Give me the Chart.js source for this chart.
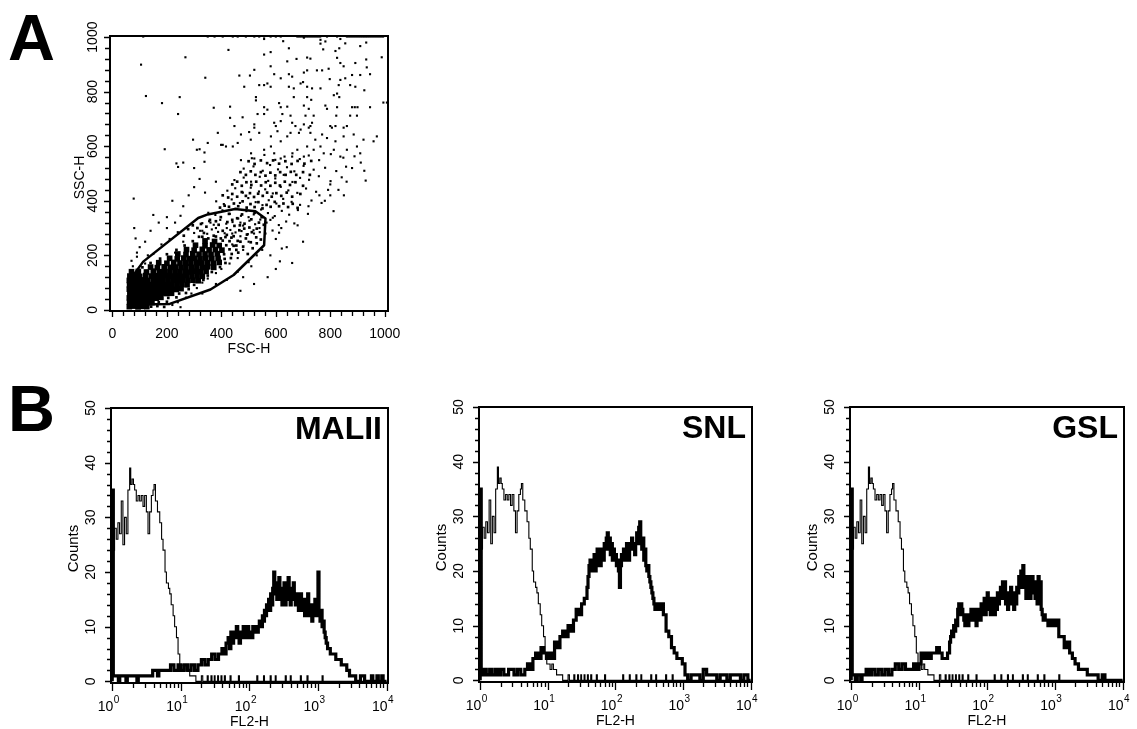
<!DOCTYPE html>
<html>
<head>
<meta charset="utf-8">
<title>Flow cytometry: scatter gate and lectin binding</title>
<script src="https://cdn.jsdelivr.net/npm/chart.js@4.4.1/dist/chart.umd.min.js"></script>
<style>
  html, body { margin: 0; padding: 0; background: #fff; }
  body { width: 1137px; height: 729px; position: relative; overflow: hidden; }
  .panel { position: absolute; }
  .letter {
    position: absolute;
    font: bold 65px 'Liberation Sans', Arial, sans-serif;
    line-height: 1;
  }
</style>
</head>
<body>
<div class="letter" style="left:8px;top:5px">A</div>
<div class="letter" style="left:8px;top:376px">B</div>

<div class="panel" style="left:0;top:0"><canvas id="scatterA" width="400" height="365"></canvas></div>
<div class="panel" style="left:0;top:380px"><canvas id="histMalii" width="400" height="349"></canvas></div>
<div class="panel" style="left:400px;top:380px"><canvas id="histSnl" width="370" height="349"></canvas></div>
<div class="panel" style="left:770px;top:380px"><canvas id="histGsl" width="367" height="349"></canvas></div>

<script>
// ---- Panel A data (FSC-H, SSC-H pairs) ----
// dense core of the population (drawn as bigger dots)
const scatterCore = [
  62,12, 78,14, 94,11, 110,13, 126,12,
  63,28, 79,27, 95,29, 111,28, 128,30, 145,27,
  62,44, 78,45, 94,43, 110,46, 127,44, 144,45, 161,43, 178,46,
  64,60, 80,61, 96,59, 113,62, 130,60, 147,61, 164,59, 181,62, 199,60, 217,61,
  62,76, 78,77, 95,75, 112,78, 129,76, 146,77, 163,75, 180,78, 198,76, 216,77, 234,75, 252,78,
  63,92, 80,93, 97,91, 114,94, 131,92, 148,93, 165,91, 183,94, 201,92, 219,93, 237,91, 255,94, 274,92,
  62,108, 79,109, 96,107, 113,110, 130,108, 150,109, 168,107, 186,110, 204,108, 222,109, 240,107, 258,110, 277,108, 296,109, 315,107,
  64,124, 81,125, 100,123, 122,126, 143,124, 162,125, 181,123, 199,126, 217,124, 235,125, 254,123, 273,126, 292,124, 311,125, 330,123,
  70,140, 95,141, 125,139, 150,142, 172,140, 192,141, 211,139, 230,142, 248,140, 267,141, 286,139, 305,142, 324,140, 344,141,
  140,157, 165,155, 190,158, 212,156, 232,157, 252,155, 270,158, 290,156, 310,157, 330,155, 350,158, 372,156,
  170,173, 200,171, 225,174, 248,172, 268,173, 288,171, 308,174, 328,172, 348,173, 370,171, 392,174,
  210,189, 238,187, 262,190, 282,188, 302,189, 322,187, 343,190, 365,188, 388,189,
  240,205, 270,203, 295,206, 318,204, 340,205, 362,203, 385,206,
  272,221, 300,219, 330,222, 355,220, 378,221, 402,219,
  305,237, 340,235, 368,238, 392,236,
  340,253, 375,251
];

// medium-density events in the upper part of the gate and just above it
const scatterMid = [
  142,12, 165,14, 190,11, 170,28, 200,30, 205,44, 235,46, 245,60, 270,62, 280,76, 300,92, 334,110, 350,126,
  365,139, 110,156, 395,157, 140,172, 415,172, 175,188, 412,187, 435,190, 200,204, 410,204, 438,205,
  235,220, 430,222, 455,220, 265,236, 418,237, 445,235, 295,252, 405,254, 430,252, 460,253,
  330,268, 380,269, 415,267, 445,270,
  462,210, 480,232, 497,205, 515,226, 530,244, 470,250, 490,262, 508,248, 528,266, 545,258, 455,236,
  262,272, 278,296, 295,310, 312,300, 318,268, 336,282, 345,305, 358,330, 372,272, 390,312, 398,340, 405,290,
  422,322, 428,352, 437,265, 448,308, 458,336, 466,292, 476,350, 485,316, 494,276, 503,302, 510,332, 522,356,
  530,298, 538,320, 548,340, 556,312, 420,275, 352,262, 398,262, 468,310, 484,298, 512,285, 440,330, 380,325, 325,315,
  395,375, 412,382, 428,378, 446,390, 462,380, 478,398, 493,375, 507,388, 522,377, 536,395, 551,372, 566,385,
  581,378, 596,396, 612,380, 628,390, 645,377, 662,389, 680,374,
  405,420, 425,412, 440,425, 458,415, 475,432, 490,418, 505,428, 520,414, 535,426, 552,418, 568,430, 585,415,
  602,428, 620,418, 640,430, 660,415, 690,425,
  440,460, 458,470, 475,455, 492,468, 510,458, 528,470, 546,456, 563,468, 580,455, 598,466, 615,456, 633,470,
  652,458, 672,468, 700,455,
  470,505, 490,495, 508,508, 525,495, 545,505, 562,492, 580,503, 598,493, 616,505, 636,495, 655,506, 675,495,
  700,505, 725,495,
  500,545, 522,535, 545,548, 568,538, 590,548, 612,536, 635,545, 658,535, 680,546, 705,536, 730,546
];

// scattered events around and above the gate
const scatterSpread = [
  300,282, 322,290, 348,279, 365,295, 388,286, 412,281, 433,293, 452,284, 474,289, 497,278, 518,292, 541,285, 562,280, 588,291, 612,283,
  330,318, 355,325, 372,312, 396,330, 418,316, 441,322, 462,335, 480,309, 503,327, 524,314, 543,331, 566,320, 589,338, 611,311, 638,324, 668,317,
  352,356, 378,348, 404,365, 431,352, 453,371, 472,345, 492,362, 519,350, 546,368, 571,355, 596,344, 622,363, 649,349, 681,366, 718,352,
  381,398, 409,388, 438,405, 468,392, 499,410, 526,395, 551,384, 574,402, 602,390, 627,407, 658,396, 689,385, 731,401, 768,392,
  422,437, 451,446, 479,430, 508,448, 538,434, 561,442, 589,427, 618,451, 646,438, 679,429, 711,445, 748,433, 792,440,
  448,476, 482,485, 509,470, 541,488, 572,473, 598,482, 629,495, 661,469, 689,484, 722,477, 758,490, 801,472, 842,486,
  482,518, 518,526, 552,510, 579,531, 608,515, 641,523, 668,508, 702,528, 739,514, 781,521, 822,509, 858,525,
  512,556, 558,568, 598,550, 632,562, 661,574, 688,553, 721,566, 759,549, 802,571, 848,558, 889,563,
  120,170, 90,195, 150,205, 180,240, 210,260, 240,285, 270,300, 260,250, 230,210, 330,290, 420,300, 470,270,
  500,250, 520,280, 540,300, 480,220, 460,190, 430,170, 400,150, 380,135, 350,115, 330,100, 310,80, 290,60,
  270,45, 240,28, 220,18, 250,10, 330,60, 380,95, 420,110, 460,140, 500,175, 530,200, 550,220, 480,120,
  510,160, 440,240, 470,320, 500,340, 440,280, 380,300, 360,320,
  580,200, 615,178, 660,172, 600,150, 570,120, 520,95, 470,70, 640,230, 600,260, 700,250, 620,300, 680,310,
  580,330, 720,380, 760,420, 800,460, 622,225, 812,362, 780,400, 850,420, 912,540, 925,510, 880,520, 860,470,
  830,440, 800,420, 930,474,
  78,408, 80,300, 85,262, 150,348, 120,250, 100,230, 140,290, 170,320, 200,300, 90,210, 130,200, 70,180,
  75,160, 200,340, 230,320, 250,345, 260,380, 220,400, 280,420, 300,450, 320,480, 340,430, 380,470, 300,520,
  260,540, 310,587,
  105,899, 268,926, 426,953, 557,993, 627,985, 703,998, 764,990, 782,984, 557,936, 581,945, 648,959, 764,976,
  774,955, 837,993, 855,977, 910,967, 932,980, 989,926, 819,949, 833,959, 676,920, 715,925, 727,921, 642,911,
  581,893, 521,880, 466,859, 505,859, 341,851, 594,864, 618,849, 648,864, 660,855, 691,830, 703,870, 715,878,
  751,878, 770,878, 794,884, 825,924, 837,905, 849,893, 892,905, 932,918, 934,889, 880,861, 910,861, 946,864,
  798,846, 837,843, 855,849, 484,818, 539,824, 557,824, 569,830, 581,818, 648,818, 666,812, 700,835, 715,818,
  733,812, 764,812, 831,824, 873,824, 892,818, 925,805, 123,784, 247,780, 182,758, 527,780, 527,768, 612,758,
  642,745, 666,780, 715,780, 730,770, 813,787, 825,793, 833,780, 880,743, 890,743, 900,743, 946,743, 995,760,
  1008,760, 241,718, 372,741, 432,745, 478,706, 533,718, 557,743, 557,718, 569,734, 618,743, 624,718, 654,712,
  703,749, 709,712, 721,737, 739,712, 782,749, 788,737, 825,743, 822,712, 873,712, 898,712, 432,704, 448,674,
  521,680, 521,668, 594,686, 600,674, 618,692, 660,686, 672,674, 703,680, 727,674, 733,686, 800,674, 806,668,
  819,674, 849,668, 861,674, 296,624, 350,612, 387,649, 405,605, 442,599, 472,643, 502,652, 508,624, 539,649,
  582,636, 606,655, 618,618, 642,636, 654,649, 685,649, 691,661, 721,668, 727,649, 745,624, 770,643, 788,630,
  819,618, 849,636, 886,643, 922,624, 959,618, 971,636, 192,589, 235,537, 241,524, 320,589, 338,577, 338,543,
  399,605, 417,599, 460,612, 472,549, 509,574, 521,555, 557,587, 582,599, 594,574, 618,555, 660,562, 679,587,
  703,562, 715,599, 739,587, 764,599, 776,574, 813,587, 837,562, 861,587, 898,599, 910,574
];

// events piled up in the top (saturated) SSC channel
const scatterTopX = [113, 350, 375, 405, 442, 460, 490, 521, 539, 557, 581, 600, 618,
  679, 686, 693, 700, 707, 714, 721, 728, 735, 742, 749, 756, 763, 788, 825,
  861, 868, 875, 882, 889, 896, 903, 910, 917, 924, 931, 938, 945, 952, 959, 966, 973, 980, 987, 994];
const scatterTopY = 1002;

// gate drawn on the FSC/SSC plot
const gateOutline = [100,20, 210,22, 360,75, 445,128, 557,237, 562,335, 525,362, 450,370,
  350,350, 315,337, 113,177, 64,110, 60,32, 100,20];

const scatterTickLabels = [0, 200, 400, 600, 800, 1000];

// ---- Panel B data: (log10 FL2-H, counts) ----
const controlCounts = [
  0,0, 0,35, 0.02,24, 0.034,28, 0.059,26, 0.083,29, 0.107,27, 0.132,33, 0.156,25, 0.18,30,
  0.205,27, 0.229,35, 0.254,39, 0.27,36, 0.29,37, 0.31,36, 0.327,35, 0.351,33, 0.376,34, 0.4,33,
  0.424,34, 0.449,32, 0.473,34, 0.498,31, 0.522,27, 0.546,31, 0.571,34, 0.595,35, 0.61,36, 0.63,33,
  0.66,31, 0.693,29, 0.72,26, 0.741,24, 0.77,20, 0.79,18, 0.82,17, 0.839,16, 0.86,14, 0.888,12,
  0.91,10, 0.937,8, 0.96,5, 0.985,3, 1.01,3, 1.034,2, 1.06,3, 1.083,2, 1.13,1, 1.18,1,
  1.22,0, 1.3,1, 1.32,0, 1.385,1, 1.4,0, 1.44,1, 1.455,0, 1.488,1, 1.5,0, 1.537,1,
  1.55,0, 1.586,1, 1.6,0, 1.635,1, 1.65,0, 1.718,1, 1.733,0, 1.84,1, 1.855,0, 2.108,1,
  2.123,0, 2.206,1, 2.22,0, 2.303,1, 2.318,0, 2.377,1, 2.39,0, 2.523,1, 2.538,0, 2.596,1,
  2.61,0, 2.743,1, 2.758,0, 2.84,1, 2.855,0, 3.06,1, 3.075,0, 4,0
];

const maliiCounts = [
  0,0, 0,35, 0.016,1, 0.09,0, 0.11,1, 0.2,0, 0.22,1, 0.36,0, 0.38,1, 0.59,2,
  0.66,1, 0.68,2, 0.78,2, 0.85,3, 0.9,2, 0.96,3, 1.0,2, 1.05,3, 1.1,2, 1.15,3,
  1.2,2, 1.25,3, 1.3,4, 1.35,3, 1.4,4, 1.45,5, 1.5,4, 1.55,5,
  1.6,6, 1.63,5, 1.66,7, 1.69,8, 1.71,6, 1.73,9, 1.75,7, 1.77,9, 1.79,8, 1.81,10,
  1.83,8, 1.85,7, 1.87,9, 1.89,8, 1.91,10, 1.93,8, 1.95,9, 1.97,10, 1.99,8, 2.01,9,
  2.03,8, 2.05,10, 2.07,9, 2.09,10, 2.11,9, 2.13,10, 2.145,11,
  2.16,11, 2.175,10, 2.19,12, 2.205,11, 2.22,13, 2.235,12, 2.25,14, 2.265,13, 2.28,15, 2.295,13,
  2.31,16, 2.325,14, 2.34,17, 2.355,20, 2.37,16, 2.385,18, 2.4,15, 2.415,17, 2.43,19, 2.445,15,
  2.46,17, 2.475,14, 2.49,16, 2.505,18, 2.52,14, 2.535,16, 2.55,15, 2.565,19, 2.58,16, 2.595,14,
  2.61,17, 2.625,15, 2.64,18, 2.655,16, 2.67,14, 2.685,16, 2.7,15, 2.715,13, 2.73,15, 2.745,16,
  2.76,13, 2.775,15, 2.79,14, 2.805,12, 2.82,15, 2.835,13, 2.85,16, 2.865,12, 2.88,14, 2.895,13,
  2.91,11, 2.925,14, 2.94,12, 2.955,15, 2.97,13, 2.985,12, 3.0,20, 3.015,13, 3.03,11, 3.045,13,
  3.06,10, 3.075,11, 3.09,9, 3.105,8, 3.12,7, 3.14,6, 3.18,5, 3.22,5, 3.26,4, 3.3,4,
  3.34,3, 3.38,3, 3.42,2, 3.46,1, 3.5,1, 3.55,0, 3.62,1, 3.68,0, 3.78,1, 3.8,0,
  3.86,1, 3.88,0, 3.93,1, 3.95,0, 4,0
];

const snlCounts = [
  0,0, 0,35, 0.015,1, 0.06,2, 0.09,1, 0.14,2, 0.17,1, 0.22,2, 0.26,1, 0.3,2,
  0.35,1, 0.42,2, 0.5,1, 0.55,2, 0.6,1, 0.66,2, 0.7,3, 0.74,2, 0.78,4, 0.82,5,
  0.86,4, 0.9,6, 0.94,5, 0.98,4, 1.02,5, 1.06,4, 1.1,7, 1.14,6, 1.18,8, 1.22,9,
  1.26,8, 1.3,10, 1.34,9, 1.38,11, 1.42,13, 1.46,12, 1.5,14, 1.54,15,
  1.58,17, 1.595,19, 1.61,21, 1.625,22, 1.64,20, 1.655,22, 1.67,21, 1.685,23, 1.7,20, 1.715,22,
  1.73,24, 1.745,21, 1.76,23, 1.775,21, 1.79,24, 1.805,23, 1.82,22, 1.835,25, 1.85,24, 1.865,26,
  1.88,27, 1.895,24, 1.91,26, 1.925,23, 1.94,25, 1.955,22, 1.97,24, 1.985,22, 2.0,23, 2.015,21,
  2.03,22, 2.045,20, 2.06,17, 2.075,21, 2.09,23, 2.105,22, 2.12,24, 2.135,22, 2.15,23, 2.165,25,
  2.18,24, 2.195,22, 2.21,25, 2.225,24, 2.24,26, 2.255,24, 2.27,25, 2.285,23, 2.3,25, 2.315,27,
  2.33,25, 2.345,28, 2.36,29, 2.375,26, 2.39,24, 2.405,26, 2.42,22, 2.435,24, 2.45,21, 2.465,20,
  2.48,21, 2.495,19, 2.51,18, 2.525,17, 2.54,16, 2.555,15, 2.57,14, 2.585,13, 2.6,14,
  2.63,13, 2.67,14, 2.71,12, 2.75,9, 2.79,8, 2.83,6, 2.87,5, 2.91,4, 2.95,4,
  2.99,3, 3.03,1, 3.07,0, 3.12,1, 3.2,1, 3.25,0, 3.3,2, 3.35,1, 3.45,1, 3.5,0,
  3.55,1, 3.65,0, 3.7,1, 3.85,0, 3.9,1, 3.96,0, 4,0
];

const gslCounts = [
  0,0, 0,35, 0.015,1, 0.06,0, 0.09,1, 0.14,0, 0.16,1, 0.22,2, 0.26,1, 0.3,2,
  0.35,1, 0.4,2, 0.45,1, 0.5,2, 0.55,1, 0.6,2, 0.65,3, 0.7,2, 0.75,3, 0.8,2,
  0.86,2, 0.92,3, 0.96,2, 1.0,3, 1.03,5, 1.06,4, 1.1,5, 1.14,4, 1.18,5, 1.22,5,
  1.26,6, 1.3,5, 1.34,4, 1.38,4, 1.42,5,
  1.45,7, 1.465,8, 1.48,9, 1.495,8, 1.51,10, 1.525,9, 1.54,11, 1.555,10, 1.57,13, 1.585,14,
  1.6,12, 1.615,14, 1.63,13, 1.645,12, 1.66,11, 1.675,10, 1.69,12, 1.705,11, 1.72,10, 1.735,12,
  1.75,11, 1.765,13, 1.78,12, 1.795,11, 1.81,13, 1.825,12, 1.84,10, 1.855,11, 1.87,13, 1.885,12,
  1.9,11, 1.915,14, 1.93,12, 1.945,13, 1.96,15, 1.975,12, 1.99,14, 2.005,16, 2.02,13, 2.035,15,
  2.05,12, 2.065,14, 2.08,13, 2.095,15, 2.11,12, 2.125,14, 2.14,13, 2.155,16, 2.17,14, 2.185,15,
  2.2,17, 2.215,15, 2.23,18, 2.245,16, 2.26,18, 2.275,14, 2.29,16, 2.305,13, 2.32,16, 2.335,15,
  2.35,17, 2.365,14, 2.38,16, 2.395,13, 2.41,15, 2.425,14, 2.44,17, 2.455,16, 2.47,19, 2.485,17,
  2.5,20, 2.515,18, 2.53,21, 2.545,17, 2.56,19, 2.575,15, 2.59,18, 2.605,16, 2.62,19, 2.635,15,
  2.65,17, 2.665,19, 2.68,16, 2.695,18, 2.71,15, 2.725,17, 2.74,14, 2.755,19, 2.77,16, 2.785,18,
  2.8,13, 2.815,12, 2.83,11, 2.845,12,
  2.86,11, 2.9,10, 2.94,11, 2.98,10, 3.02,11, 3.06,8, 3.1,8, 3.14,6, 3.18,7,
  3.22,5, 3.26,4, 3.3,3, 3.35,2, 3.42,2, 3.48,1, 3.56,1, 3.64,0, 3.7,1, 3.74,0, 4,0
];

const histDecades = [0, 1, 2, 3, 4];
const countTickLabels = [0, 10, 20, 30, 40, 50];

// ---- helpers ----
const FONT = "'Liberation Sans', Arial, Helvetica, sans-serif";
Chart.defaults.font.family = FONT;

function pairs(flat) {
  const out = [];
  for (let i = 0; i < flat.length; i += 2) out.push({ x: flat[i], y: flat[i + 1] });
  return out;
}

function logPairs(flat) {
  const out = [];
  for (let i = 0; i < flat.length; i += 2) out.push({ x: Math.pow(10, flat[i]), y: flat[i + 1] });
  return out;
}

// Frame, tick marks, tick labels and axis titles, drawn from the chart scales
const axisDecor = {
  id: 'axisDecor',
  afterDraw(chart, args, o) {
    const { ctx, chartArea: a } = chart;
    const xs = chart.scales.x, ys = chart.scales.y;
    ctx.save();
    ctx.strokeStyle = '#000';
    ctx.fillStyle = '#000';

    // tick marks
    ctx.lineWidth = 1.3;
    ctx.beginPath();
    o.xTicks.forEach(t => {
      const px = Math.round(xs.getPixelForValue(t.v)) + 0.5;
      ctx.moveTo(px, a.bottom);
      ctx.lineTo(px, a.bottom + t.len);
    });
    o.yTicks.forEach(t => {
      const py = Math.round(ys.getPixelForValue(t.v)) + 0.5;
      ctx.moveTo(a.left, py);
      ctx.lineTo(a.left - t.len, py);
    });
    ctx.stroke();

    // frame
    ctx.lineWidth = 2;
    ctx.strokeRect(a.left, a.top, a.right - a.left, a.bottom - a.top);

    // x tick labels
    if (o.logLabels) {
      o.xLabels.forEach(d => {
        const px = xs.getPixelForValue(Math.pow(10, d));
        ctx.font = '14px ' + FONT;
        ctx.textAlign = 'right';
        ctx.textBaseline = 'alphabetic';
        ctx.fillText('10', px + 1, a.bottom + 28);
        ctx.font = '10px ' + FONT;
        ctx.textAlign = 'left';
        ctx.fillText(String(d), px + 1.5, a.bottom + 20);
      });
    } else {
      ctx.font = '14px ' + FONT;
      ctx.textAlign = 'center';
      ctx.textBaseline = 'alphabetic';
      o.xLabels.forEach(v => {
        ctx.fillText(String(v), xs.getPixelForValue(v), a.bottom + 27);
      });
    }

    // y tick labels (rotated)
    ctx.font = o.yFont + 'px ' + FONT;
    ctx.textAlign = 'center';
    ctx.textBaseline = 'middle';
    o.yLabels.forEach(v => {
      const py = ys.getPixelForValue(v);
      ctx.save();
      ctx.translate(a.left - o.yLabelGap, py);
      ctx.rotate(-Math.PI / 2);
      ctx.fillText(String(v), 0, 0);
      ctx.restore();
    });

    // axis titles
    ctx.font = '14px ' + FONT;
    ctx.textAlign = 'center';
    ctx.textBaseline = 'alphabetic';
    ctx.fillText(o.xTitle, (a.left + a.right) / 2, a.bottom + o.xTitleGap);
    ctx.save();
    ctx.font = o.yTitleFont + 'px ' + FONT;
    ctx.translate(a.left - o.yTitleGap, (a.top + a.bottom) / 2 + o.yTitleShift);
    ctx.rotate(-Math.PI / 2);
    ctx.textBaseline = 'middle';
    ctx.fillText(o.yTitle, 0, 0);
    ctx.restore();

    // panel label inside plot
    if (o.label) {
      ctx.font = 'bold 32px ' + FONT;
      ctx.textAlign = 'right';
      ctx.textBaseline = 'alphabetic';
      ctx.fillText(o.label, a.right - 6, a.top + 31);
    }
    ctx.restore();
  }
};

const baseOptions = {
  responsive: false,
  animation: false,
  devicePixelRatio: 1,
  events: [],
};

// ---- Panel A: FSC-H vs SSC-H ----
const scatterXTicks = [];
for (let v = 0; v <= 1000; v += 40) scatterXTicks.push({ v, len: v % 200 === 0 ? 6 : 5 });
const scatterYTicks = scatterXTicks.map(t => ({ v: t.v, len: t.len }));

new Chart(document.getElementById('scatterA'), {
  type: 'scatter',
  data: {
    datasets: [
      {
        label: 'Gate',
        data: pairs(gateOutline),
        showLine: true,
        borderColor: '#000',
        borderWidth: 2.5,
        pointRadius: 0,
        tension: 0,
        fill: false,
        borderJoinStyle: 'round'
      },
      {
        label: 'Core events',
        data: pairs(scatterCore),
        pointStyle: 'rect',
        pointRadius: 4,
        pointBorderWidth: 0,
        backgroundColor: '#000'
      },
      {
        label: 'Mid events',
        data: pairs(scatterMid),
        pointStyle: 'rect',
        pointRadius: 1.9,
        pointBorderWidth: 0,
        backgroundColor: '#000'
      },
      {
        label: 'Events',
        data: pairs(scatterSpread).concat(scatterTopX.map(x => ({ x, y: scatterTopY }))),
        pointStyle: 'rect',
        pointRadius: 1.5,
        pointBorderWidth: 0,
        backgroundColor: '#000'
      }
    ]
  },
  options: {
    ...baseOptions,
    layout: { padding: { left: 110, top: 36, right: 12, bottom: 54 } },
    scales: {
      x: { type: 'linear', display: false, min: -9, max: 1012 },
      y: { type: 'linear', display: false, min: -4, max: 1004 }
    },
    plugins: {
      legend: { display: false },
      tooltip: { enabled: false },
      axisDecor: {
        xTicks: scatterXTicks,
        yTicks: scatterYTicks,
        xLabels: scatterTickLabels,
        yLabels: scatterTickLabels,
        logLabels: false,
        yFont: 14,
        yLabelGap: 17,
        xTitle: 'FSC-H',
        xTitleGap: 42,
        yTitle: 'SSC-H',
        yTitleFont: 14,
        yTitleGap: 30,
        yTitleShift: 4
      }
    }
  },
  plugins: [axisDecor]
});

// ---- Panel B: FL2-H histograms ----
const logTicks = [];
for (let n = 0; n < 4; n++) {
  for (let k = 1; k < 10; k++) logTicks.push({ v: k * Math.pow(10, n), len: k === 1 ? 8 : 5 });
}
logTicks.push({ v: 10000, len: 8 });
const countTicks = [];
for (let v = 0; v <= 50; v += 2) countTicks.push({ v, len: v % 10 === 0 ? 6 : 4 });

function histogram(id, counts, label, padding) {
  new Chart(document.getElementById(id), {
    type: 'line',
    data: {
      datasets: [
        {
          label: label,
          data: logPairs(counts),
          stepped: true,
          borderColor: '#000',
          borderWidth: 3.2,
          pointRadius: 0,
          fill: false,
          borderJoinStyle: 'miter'
        },
        {
          label: 'Control',
          data: logPairs(controlCounts),
          stepped: true,
          borderColor: '#000',
          borderWidth: 1.1,
          pointRadius: 0,
          fill: false
        }
      ]
    },
    options: {
      ...baseOptions,
      layout: { padding },
      scales: {
        x: { type: 'logarithmic', display: false, min: 0.96, max: 10500 },
        y: { type: 'linear', display: false, min: -0.3, max: 50 }
      },
      plugins: {
        legend: { display: false },
        tooltip: { enabled: false },
        axisDecor: {
          xTicks: logTicks,
          yTicks: countTicks,
          xLabels: histDecades,
          yLabels: countTickLabels,
          logLabels: true,
          yFont: 14,
          yLabelGap: 20,
          xTitle: 'FL2-H',
          xTitleGap: 43,
          yTitle: 'Counts',
          yTitleFont: 15,
          yTitleGap: 37,
          yTitleShift: 3,
          label: label
        }
      }
    },
    plugins: [axisDecor]
  });
}

histogram('histMalii', maliiCounts, 'MALII', { left: 111, top: 28, right: 12, bottom: 46 });
histogram('histSnl', snlCounts, 'SNL', { left: 79, top: 27, right: 18, bottom: 47 });
histogram('histGsl', gslCounts, 'GSL', { left: 80, top: 27, right: 13, bottom: 47 });
</script>
</body>
</html>
